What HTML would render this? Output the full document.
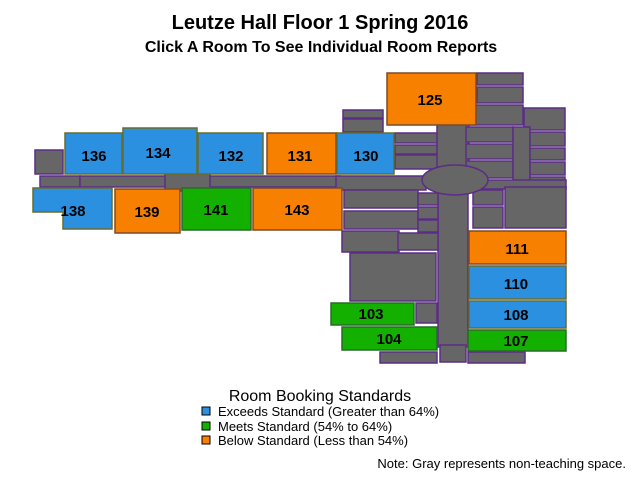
<!DOCTYPE html>
<html><head><meta charset="utf-8"><style>
body{margin:0;background:#fff;}
svg{display:block;font-family:"Liberation Sans",Arial,sans-serif;}
.g{fill:#666;stroke:#5b2d86;stroke-width:1.5}
.rm{stroke-width:1.5;cursor:pointer}
.lbl{font-weight:bold;font-size:15px;text-anchor:middle;fill:#000}
</style></head><body>
<svg width="640" height="480" viewBox="0 0 640 480">
<text x="320" y="29" text-anchor="middle" font-weight="bold" font-size="20">Leutze Hall Floor 1 Spring 2016</text>
<text x="321" y="52" text-anchor="middle" font-weight="bold" font-size="16">Click A Room To See Individual Room Reports</text>
<g>
<rect class="g" x="35" y="150" width="28" height="24"/>
<rect class="g" x="40" y="176" width="40" height="11"/>
<rect class="g" x="80" y="176" width="260" height="11"/>
<rect class="g" x="165" y="172" width="45" height="19"/>
<rect class="g" x="336" y="176" width="90" height="14"/>
<rect class="g" x="343" y="110" width="40" height="8"/>
<rect class="g" x="343" y="119" width="40" height="13"/>
<rect class="g" x="395" y="133" width="43" height="10"/>
<rect class="g" x="395" y="145" width="43" height="9"/>
<rect class="g" x="395" y="155" width="43" height="14"/>
<rect class="g" x="437" y="123" width="32" height="45"/>
<rect class="g" x="477" y="73" width="46" height="12"/>
<rect class="g" x="477" y="87" width="46" height="16"/>
<rect class="g" x="466" y="105" width="57" height="20"/>
<rect class="g" x="524" y="108" width="41" height="22"/>
<rect class="g" x="466" y="127" width="47" height="15"/>
<rect class="g" x="466" y="144" width="47" height="15"/>
<rect class="g" x="466" y="161" width="47" height="17"/>
<rect class="g" x="513" y="127" width="17" height="55"/>
<rect class="g" x="530" y="132" width="35" height="14"/>
<rect class="g" x="530" y="148" width="35" height="12"/>
<rect class="g" x="530" y="162" width="35" height="13"/>
<rect class="g" x="530" y="177" width="35" height="9"/>
<rect class="g" x="480" y="180" width="86" height="9"/>
<rect class="g" x="473" y="190" width="30" height="15"/>
<rect class="g" x="473" y="207" width="30" height="21"/>
<rect class="g" x="505" y="187" width="61" height="41"/>
<rect class="g" x="438" y="192" width="30" height="155"/>
<rect class="g" x="440" y="345" width="26" height="17"/>
<rect class="g" x="468" y="352" width="57" height="11"/>
<rect class="g" x="380" y="352" width="57" height="11"/>
<rect class="g" x="344" y="190" width="74" height="18"/>
<rect class="g" x="344" y="211" width="74" height="18"/>
<rect class="g" x="418" y="193" width="20" height="12"/>
<rect class="g" x="418" y="207" width="20" height="12"/>
<rect class="g" x="418" y="220" width="20" height="12"/>
<rect class="g" x="342" y="231" width="57" height="21"/>
<rect class="g" x="398" y="233" width="40" height="17"/>
<rect class="g" x="350" y="253" width="86" height="48"/>
<rect class="g" x="416" y="303" width="21" height="20"/>
<ellipse class="g" cx="455" cy="180" rx="33" ry="15"/>
</g>
<g>
<rect class="rm" x="65" y="133" width="57" height="41" fill="#2b90e0" stroke="#6b6b2a"/>
<rect class="rm" x="123" y="128" width="74" height="46" fill="#2b90e0" stroke="#6b6b2a"/>
<rect class="rm" x="198" y="133" width="65" height="41" fill="#2b90e0" stroke="#6b6b2a"/>
<rect class="rm" x="267" y="133" width="69" height="41" fill="#f78000" stroke="#7b4b2a"/>
<rect class="rm" x="337" y="133" width="57" height="41" fill="#2b90e0" stroke="#6b6b2a"/>
<rect class="rm" x="387" y="73" width="89" height="52" fill="#f78000" stroke="#7b4b2a"/>
<path class="rm" d="M33 188H112V229H63V212H33Z" fill="#2b90e0" stroke="#6b6b2a"/>
<rect class="rm" x="115" y="189" width="65" height="44" fill="#f78000" stroke="#7b4b2a"/>
<rect class="rm" x="182" y="188" width="69" height="42" fill="#13b000" stroke="#2a6b2a"/>
<rect class="rm" x="253" y="188" width="89" height="42" fill="#f78000" stroke="#7b4b2a"/>
<rect class="rm" x="469" y="231" width="97" height="33" fill="#f78000" stroke="#7b4b2a"/>
<rect class="rm" x="469" y="266" width="97" height="33" fill="#2b90e0" stroke="#6b6b2a"/>
<rect class="rm" x="469" y="301" width="97" height="27" fill="#2b90e0" stroke="#6b6b2a"/>
<rect class="rm" x="468" y="330" width="98" height="21" fill="#13b000" stroke="#2a6b2a"/>
<rect class="rm" x="331" y="303" width="83" height="22" fill="#13b000" stroke="#2a6b2a"/>
<rect class="rm" x="342" y="327" width="95" height="23" fill="#13b000" stroke="#2a6b2a"/>
</g>
<g>
<text class="lbl" x="94" y="161">136</text>
<text class="lbl" x="158" y="158">134</text>
<text class="lbl" x="231" y="161">132</text>
<text class="lbl" x="300" y="161">131</text>
<text class="lbl" x="366" y="161">130</text>
<text class="lbl" x="430" y="105">125</text>
<text class="lbl" x="73" y="216">138</text>
<text class="lbl" x="147" y="217">139</text>
<text class="lbl" x="216" y="215">141</text>
<text class="lbl" x="297" y="215">143</text>
<text class="lbl" x="517" y="254">111</text>
<text class="lbl" x="516" y="289">110</text>
<text class="lbl" x="516" y="320">108</text>
<text class="lbl" x="516" y="346">107</text>
<text class="lbl" x="371" y="319">103</text>
<text class="lbl" x="389" y="344">104</text>
</g>
<g>
<text x="320" y="401" text-anchor="middle" font-size="16">Room Booking Standards</text>
<rect x="202" y="407" width="8" height="8" fill="#2b90e0" stroke="#000"/>
<text x="218" y="416" font-size="13">Exceeds Standard (Greater than 64%)</text>
<rect x="202" y="422" width="8" height="8" fill="#13b000" stroke="#000"/>
<text x="218" y="431" font-size="13">Meets Standard (54% to 64%)</text>
<rect x="202" y="436" width="8" height="8" fill="#f78000" stroke="#000"/>
<text x="218" y="445" font-size="13">Below Standard (Less than 54%)</text>
</g>
<text x="626" y="468" text-anchor="end" font-size="13">Note: Gray represents non-teaching space.</text>
</svg>
</body></html>
